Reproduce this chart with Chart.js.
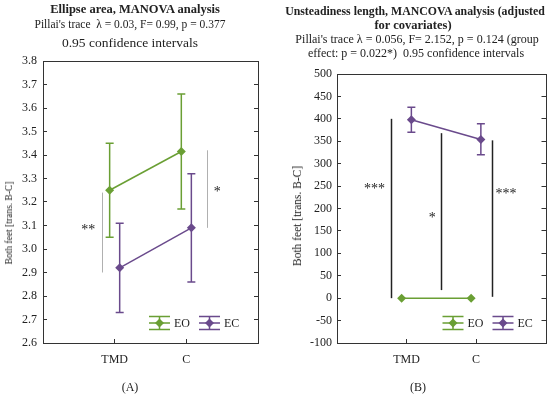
<!DOCTYPE html>
<html lang="en">
<head>
<meta charset="UTF-8" />
<title>Ellipse area / Unsteadiness length</title>
<script src="https://cdn.jsdelivr.net/npm/chart.js"></script>
<style>
  body { margin: 0; background: #fff; }
  #wrap { position: relative; width: 550px; height: 394px; overflow: hidden;
          font-family: "Liberation Serif", serif; color: #222; }
  .box { position: absolute; top: 0; width: 275px; height: 394px; }
  .ln { position: absolute; transform: translate(-50%, -50%); white-space: nowrap; font-size: 12px; line-height: 14px; }
  .b { font-weight: bold; }
  .ytl { position: absolute; transform: translate(-50%, -50%) rotate(-90deg); white-space: nowrap; }
</style>
</head>
<body>
<div id="wrap">
  <div class="box" style="left:0"><canvas id="chartA" width="275" height="394"></canvas></div>
  <div class="box" style="left:275px"><canvas id="chartB" width="275" height="394"></canvas></div>

  <div class="ln b" style="left:135px; top:9px; font-size:12.5px">Ellipse area, MANOVA analysis</div>
  <div class="ln" style="left:130px; top:24px; font-size:11.5px">Pillai's trace&nbsp; λ = 0.03, F= 0.99, p = 0.377</div>
  <div class="ln" style="left:130px; top:43px; font-size:13.5px">0.95 confidence intervals</div>

  <div class="ln b" style="left:415px; top:11px; font-size:11.8px">Unsteadiness length, MANCOVA analysis (adjusted</div>
  <div class="ln b" style="left:413px; top:25px; font-size:12.5px">for covariates)</div>
  <div class="ln" style="left:417px; top:39px">Pillai's trace λ = 0.056, F= 2.152, p = 0.124 (group</div>
  <div class="ln" style="left:416px; top:53px">effect: p = 0.022*)&nbsp; 0.95 confidence intervals</div>

  <div class="ytl" style="left:9px; top:223px; font-size:9.5px">Both feet [trans. B-C]</div>
  <div class="ytl" style="left:297px; top:216px; font-size:11.5px">Both feet [trans. B-C]</div>

  <div class="ln" style="left:130px; top:387px">(A)</div>
  <div class="ln" style="left:418px; top:387px">(B)</div>
</div>

<script>
  const categories = ["TMD", "C"];

  // (A) ellipse area: means and 0.95 CI
  const eoMeanA = [3.25, 3.415];
  const eoLowA = [3.05, 3.17];
  const eoHighA = [3.45, 3.66];
  const ecMeanA = [2.92, 3.09];
  const ecLowA = [2.73, 2.86];
  const ecHighA = [3.11, 3.32];

  // (B) unsteadiness length
  const eoMeanB = [0, 0];
  const ecMeanB = [398, 354];
  const ecLowB = [370, 320];
  const ecHighB = [426, 389];

  // significance bars: [x on category axis, from, to]
  const sigLinesA = [[0.82, 2.9, 3.24], [2.29, 3.09, 3.42]];
  const sigTextA = [[0.63, 3.08, "**"], [2.43, 3.24, "*"]];
  const sigLinesB = [[0.77, 0, 400], [1.49, 18, 368], [2.23, 3, 352]];
  const sigTextB = [[0.54, 243, "***"], [1.37, 177, "*"], [2.43, 232, "***"]];

  const green = "#6a9f34";
  const purple = "#6a4a8c";
  const dodge = 0.07;

  const toPoints = (vals, off) => vals.map((v, i) => ({ x: i + 1 + off, y: v }));

  const frame = {
    id: "frame",
    afterDraw(chart) {
      const { ctx, chartArea: a } = chart;
      ctx.save();
      ctx.strokeStyle = "#333";
      ctx.lineWidth = 1;
      ctx.strokeRect(Math.round(a.left) + 0.5, Math.round(a.top) + 0.5,
        Math.round(a.right - a.left), Math.round(a.bottom - a.top));
      ctx.restore();
    },
  };

  const errorBars = {
    id: "errorBars",
    beforeDatasetsDraw(chart) {
      const { ctx, scales: { x, y } } = chart;
      chart.data.datasets.forEach((ds) => {
        if (!ds.lows) return;
        ctx.save();
        ctx.strokeStyle = ds.borderColor;
        ctx.lineWidth = 1.5;
        ds.data.forEach((p, i) => {
          const px = x.getPixelForValue(p.x);
          const y1 = y.getPixelForValue(ds.lows[i]);
          const y2 = y.getPixelForValue(ds.highs[i]);
          ctx.beginPath();
          ctx.moveTo(px, y1); ctx.lineTo(px, y2);
          ctx.moveTo(px - 4, y1); ctx.lineTo(px + 4, y1);
          ctx.moveTo(px - 4, y2); ctx.lineTo(px + 4, y2);
          ctx.stroke();
        });
        ctx.restore();
      });
    },
  };

  const sigMarks = {
    id: "sigMarks",
    beforeDatasetsDraw(chart, args, opts) {
      const { ctx, scales: { x, y } } = chart;
      ctx.save();
      ctx.strokeStyle = opts.color;
      ctx.lineWidth = opts.width;
      opts.lines.forEach(([xv, a, b]) => {
        const px = Math.round(x.getPixelForValue(xv)) + 0.5;
        ctx.beginPath();
        ctx.moveTo(px, y.getPixelForValue(a));
        ctx.lineTo(px, y.getPixelForValue(b));
        ctx.stroke();
      });
      ctx.fillStyle = "#222";
      ctx.font = "14px 'Liberation Serif'";
      ctx.textAlign = "center";
      ctx.textBaseline = "middle";
      opts.texts.forEach(([xv, yv, t]) => {
        ctx.fillText(t, x.getPixelForValue(xv), y.getPixelForValue(yv));
      });
      ctx.restore();
    },
  };

  const errLegend = {
    id: "errLegend",
    afterDraw(chart, args, opts) {
      const { ctx, chartArea: a } = chart;
      const cy = a.bottom - 20;
      ctx.save();
      chart.data.datasets.forEach((ds, i) => {
        const x0 = a.right - opts.offset + i * 50;
        ctx.strokeStyle = ds.borderColor;
        ctx.lineWidth = 1.5;
        ctx.beginPath();
        ctx.moveTo(x0, cy - 6.5); ctx.lineTo(x0 + 21, cy - 6.5);
        ctx.moveTo(x0, cy); ctx.lineTo(x0 + 21, cy);
        ctx.moveTo(x0, cy + 6.5); ctx.lineTo(x0 + 21, cy + 6.5);
        ctx.moveTo(x0 + 10.5, cy - 6.5); ctx.lineTo(x0 + 10.5, cy + 6.5);
        ctx.stroke();
        ctx.fillStyle = ds.borderColor;
        ctx.beginPath();
        ctx.moveTo(x0 + 10.5, cy - 4.5); ctx.lineTo(x0 + 15, cy);
        ctx.lineTo(x0 + 10.5, cy + 4.5); ctx.lineTo(x0 + 6, cy);
        ctx.closePath();
        ctx.fill();
        ctx.fillStyle = "#222";
        ctx.font = "12px 'Liberation Serif'";
        ctx.textBaseline = "middle";
        ctx.fillText(ds.label, x0 + 25, cy + 0.5);
      });
      ctx.restore();
    },
  };

  function makePanel(id, p) {
    const tickGrid = { drawOnChartArea: false, drawTicks: true, tickLength: -4, color: "#333" };
    const yBase = {
      min: p.min, max: p.max,
      ticks: { stepSize: p.step, color: "#222", padding: p.yPad,
        font: { family: "'Liberation Serif'", size: 12 },
        callback: p.fmt },
      grid: tickGrid,
      border: { display: false },
    };
    const series = [
      { label: "EO", data: toPoints(p.eo, -dodge), lows: p.eoLow, highs: p.eoHigh, borderColor: green },
      { label: "EC", data: toPoints(p.ec, dodge), lows: p.ecLow, highs: p.ecHigh, borderColor: purple },
    ];
    series.forEach((s) => Object.assign(s, {
      backgroundColor: s.borderColor, borderWidth: 1.5,
      pointStyle: "rectRot", pointRadius: 4.5, pointBorderWidth: 0,
    }));

    return new Chart(document.getElementById(id), {
      type: "line",
      data: { datasets: series },
      plugins: [frame, errorBars, sigMarks, errLegend],
      options: {
        responsive: false,
        animation: false,
        devicePixelRatio: 1,
        layout: { padding: p.pad },
        scales: {
          x: {
            type: "linear", min: 0, max: 3,
            afterBuildTicks: (s) => { s.ticks = categories.map((c, i) => ({ value: i + 1 })); },
            afterFit: (s) => { s.height = 51; },
            ticks: { color: "#222", padding: 14, maxRotation: 0,
              font: { family: "'Liberation Serif'", size: 12 },
              callback: (v) => categories[v - 1] },
            grid: tickGrid,
            border: { display: false },
          },
          y: Object.assign({}, yBase, { position: "left", afterFit: (s) => { s.width = p.yWidth; } }),
          y2: Object.assign({}, yBase, { position: "right", ticks: { display: false, stepSize: p.step },
            afterFit: (s) => { s.width = 0; } }),
        },
        plugins: {
          legend: { display: false },
          tooltip: { enabled: false },
          sigMarks: p.sig,
          errLegend: { offset: p.legendOffset },
        },
      },
    });
  }

  makePanel("chartA", {
    eo: eoMeanA, eoLow: eoLowA, eoHigh: eoHighA,
    ec: ecMeanA, ecLow: ecLowA, ecHigh: ecHighA,
    min: 2.6, max: 3.8, step: 0.1, fmt: (v) => v.toFixed(1),
    yWidth: 43, yPad: 10, legendOffset: 109,
    pad: { top: 61, right: 17, left: 0, bottom: 0 },
    sig: { lines: sigLinesA, texts: sigTextA, color: "#b0b0b0", width: 1 },
  });

  makePanel("chartB", {
    eo: eoMeanB, eoLow: null, eoHigh: null,
    ec: ecMeanB, ecLow: ecLowB, ecHigh: ecHighB,
    min: -100, max: 500, step: 50, fmt: (v) => v,
    yWidth: 62, yPad: 9, legendOffset: 103,
    pad: { top: 74, right: 3, left: 0, bottom: 0 },
    sig: { lines: sigLinesB, texts: sigTextB, color: "#222", width: 1.5 },
  });
</script>
</body>
</html>
